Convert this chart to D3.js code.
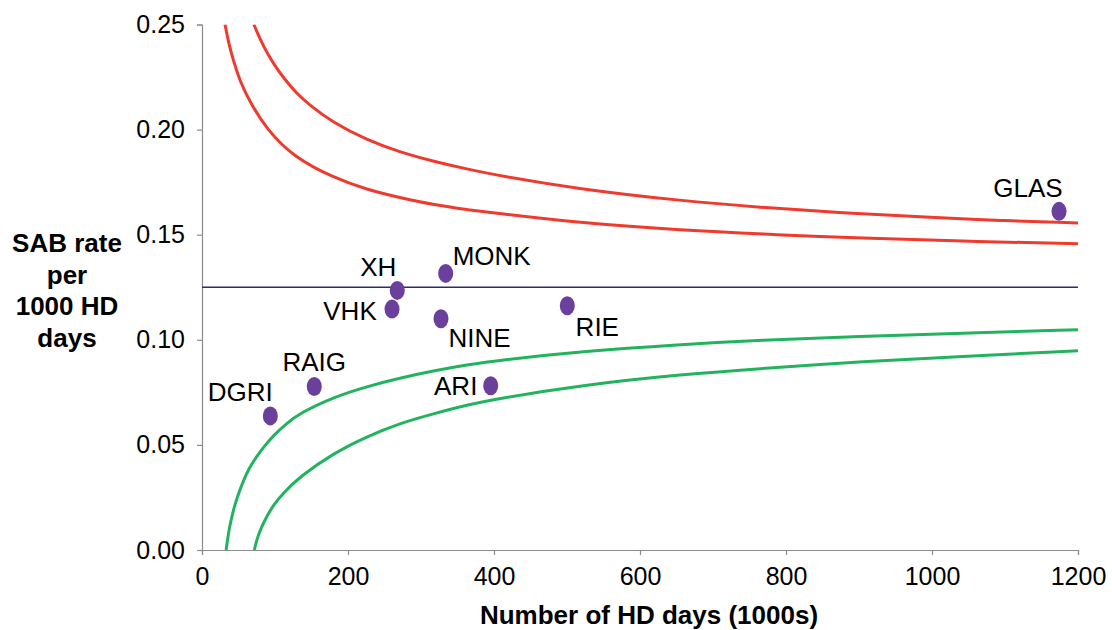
<!DOCTYPE html>
<html>
<head>
<meta charset="utf-8">
<script src="https://cdn.jsdelivr.net/npm/d3@7"></script>
<style>
  html, body { margin: 0; padding: 0; background: #fff; }
  svg { display: block; font-family: "Liberation Sans", Arial, sans-serif; }
</style>
</head>
<body>
<svg id="chart" width="1112" height="630"></svg>
<script>
// Units (haemodialysis sites) and their SAB rates
const units = ["DGRI", "RAIG", "VHK", "XH", "MONK", "NINE", "ARI", "RIE", "GLAS"];
const hdDays = [93.6, 153.8, 260.3, 267.5, 333.8, 327.4, 395.5, 500.4, 1174];
const sabRate = [0.0638, 0.0778, 0.1146, 0.1235, 0.1316, 0.1100, 0.0781, 0.1162, 0.1611];

// Overall mean rate
const meanRate = 0.125;

// Funnel control limits (x in 1000s of HD days, y = rate)
const upperOuterX = [71, 80, 89, 100, 111, 128, 148, 179, 226, 271, 316, 363, 408, 518, 655, 764, 878, 993, 1093, 1200];
const upperOuterY = [0.250, 0.2428, 0.2365, 0.2303, 0.2250, 0.2177, 0.2115, 0.2035, 0.1950, 0.1893, 0.1850, 0.1812, 0.1780, 0.1716, 0.1662, 0.1630, 0.1604, 0.1583, 0.1567, 0.1556];

const upperInnerX = [31.5, 36, 42.5, 52, 66, 89, 125, 180, 226, 271, 316, 363, 408, 518, 655, 792, 901, 1038, 1200];
const upperInnerY = [0.2500, 0.2420, 0.2333, 0.2230, 0.2129, 0.2000, 0.1871, 0.1771, 0.1714, 0.1676, 0.1643, 0.1619, 0.1600, 0.1556, 0.1521, 0.1499, 0.1484, 0.1469, 0.1457];

const lowerInnerX = [33, 36, 39, 43, 48, 57, 65, 75, 85, 98, 115, 134, 180, 226, 271, 317, 363, 408, 518, 655, 764, 901, 1038, 1200];
const lowerInnerY = [0.000, 0.0075, 0.0130, 0.0190, 0.0250, 0.0333, 0.0392, 0.0446, 0.0492, 0.0545, 0.0600, 0.0651, 0.0727, 0.0778, 0.0818, 0.0852, 0.0881, 0.0903, 0.0944, 0.0978, 0.0998, 0.1016, 0.1031, 0.1048];

const lowerOuterX = [71.6, 76, 81, 88.6, 98, 111, 134, 180, 226, 271, 317, 363, 408, 518, 655, 792, 901, 1038, 1200];
const lowerOuterY = [0.000, 0.0060, 0.0105, 0.0159, 0.0215, 0.0270, 0.0349, 0.0460, 0.0540, 0.0603, 0.0648, 0.0690, 0.0722, 0.0783, 0.0835, 0.0870, 0.0895, 0.0920, 0.0948];

// Axis ticks
const xTicks = [0, 200, 400, 600, 800, 1000, 1200];
const yTicks = [0, 0.05, 0.10, 0.15, 0.20, 0.25];

// Label placement relative to each point (pixels)
const labelDx = [-30, 0, -42, -19, 46, 38.5, -35, 30, -31];
const labelDy = [-14.5, -15, 10.7, -14, -8, 28, 9, 30, -14.4];

const svg = d3.select("#chart");

const x = d3.scaleLinear().domain([0, 1200]).range([202, 1078]);
const y = d3.scaleLinear().domain([0, 0.25]).range([550, 24.5]);

const axisColor = "#8c8c8c";

// Clip lines to the plotting area
svg.append("defs").append("clipPath").attr("id", "plot")
  .append("rect").attr("x", 202).attr("y", 24.5).attr("width", 876).attr("height", 525.5);

// Axes
const yAxis = svg.append("g").attr("transform", "translate(202,0)")
  .call(d3.axisLeft(y).tickValues(yTicks).tickFormat(d3.format(".2f")).tickSizeOuter(0).tickSize(5).tickPadding(12));
const xAxis = svg.append("g").attr("transform", "translate(0,550)")
  .call(d3.axisBottom(x).tickValues(xTicks).tickFormat(d3.format("d")).tickSizeOuter(0).tickSize(5).tickPadding(12));

[xAxis, yAxis].forEach(g => {
  g.select(".domain").attr("stroke", axisColor).attr("stroke-width", 1.2);
  g.selectAll(".tick line").attr("stroke", axisColor).attr("stroke-width", 1.2);
  g.selectAll(".tick text").attr("fill", "#000").style("font-size", "25px")
    .style("font-family", "'Liberation Sans', Arial, sans-serif");
});

// Mean line
svg.append("line")
  .attr("x1", x(0)).attr("x2", x(1200))
  .attr("y1", y(meanRate)).attr("y2", y(meanRate))
  .attr("stroke", "#2e2b6e").attr("stroke-width", 1.5);

// Control limit curves
const line = d3.line().x(d => x(d[0])).y(d => y(d[1])).curve(d3.curveBasis);
const curves = [
  { xs: upperOuterX, ys: upperOuterY, color: "#ef3a2e" },
  { xs: upperInnerX, ys: upperInnerY, color: "#ef3a2e" },
  { xs: lowerInnerX, ys: lowerInnerY, color: "#22b35e" },
  { xs: lowerOuterX, ys: lowerOuterY, color: "#22b35e" }
];
const curveG = svg.append("g").attr("clip-path", "url(#plot)");
curves.forEach(c => {
  curveG.append("path")
    .datum(c.xs.map((v, i) => [v, c.ys[i]]))
    .attr("d", line)
    .attr("fill", "none")
    .attr("stroke", c.color)
    .attr("stroke-width", 3);
});

// Points
const pts = units.map((u, i) => ({ name: u, x: hdDays[i], y: sabRate[i], dx: labelDx[i], dy: labelDy[i] }));
svg.append("g").selectAll("ellipse").data(pts).join("ellipse")
  .attr("cx", d => x(d.x)).attr("cy", d => y(d.y))
  .attr("rx", 7.5).attr("ry", 9.5)
  .attr("fill", "#6b3f9c");

svg.append("g").selectAll("text").data(pts).join("text")
  .attr("x", d => x(d.x) + d.dx).attr("y", d => y(d.y) + d.dy)
  .attr("text-anchor", "middle")
  .style("font-size", "26px")
  .attr("fill", "#000")
  .text(d => d.name);

// Axis titles
svg.append("text")
  .attr("x", 649).attr("y", 624)
  .attr("text-anchor", "middle")
  .style("font-size", "26px").style("font-weight", "bold")
  .text("Number of HD days (1000s)");

const yTitle = ["SAB rate", "per", "1000 HD", "days"];
svg.append("g").selectAll("text").data(yTitle).join("text")
  .attr("x", 67).attr("y", (d, i) => 252 + i * 31.5)
  .attr("text-anchor", "middle")
  .style("font-size", "26px").style("font-weight", "bold")
  .text(d => d);
</script>
</body>
</html>
